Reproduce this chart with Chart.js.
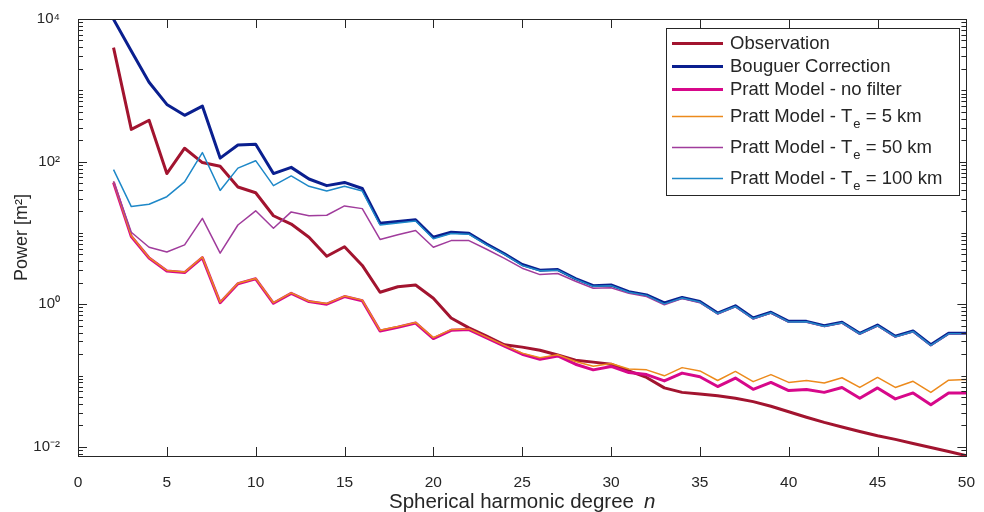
<!DOCTYPE html>
<html>
<head>
<meta charset="utf-8">
<script src="https://cdn.jsdelivr.net/npm/chart.js@4.4.1/dist/chart.umd.min.js"></script>
<style>html,body{margin:0;background:#fff}canvas{display:block}</style>
</head>
<body>
<canvas id="grafico" width="984" height="512"></canvas>
<script>
// Power spectrum vs spherical harmonic degree (log y axis, MATLAB look).
const degrees = [2, 3, 4, 5, 6, 7, 8, 9, 10, 11, 12, 13, 14, 15, 16, 17, 18, 19, 20, 21, 22, 23, 24, 25, 26,
  27, 28, 29, 30, 31, 32, 33, 34, 35, 36, 37, 38, 39, 40, 41, 42, 43, 44, 45, 46, 47, 48, 49, 50];

const observation = [3960, 283, 380, 68, 154, 97, 86, 44, 36.6, 17.4, 13.3, 8.7, 4.7, 6.4, 3.5, 1.47, 1.76, 1.86, 1.21,
  0.64, 0.465, 0.356, 0.27, 0.25, 0.226, 0.194, 0.164, 0.154, 0.144, 0.116, 0.094, 0.067, 0.058, 0.055, 0.052,
  0.048, 0.043, 0.037, 0.031, 0.026, 0.022, 0.019, 0.0164, 0.0143, 0.0127, 0.0111, 0.0098, 0.0086, 0.0075];
const bouguer = [9900, 3560, 1295, 634, 446, 601, 112, 171, 175, 68, 83, 57, 46, 51, 42, 13.7, 14.4, 15.3, 8.7,
  10.2, 9.9, 7.0, 5.1, 3.6, 3.0, 3.06, 2.29, 1.82, 1.86, 1.5, 1.35, 1.04, 1.24, 1.09, 0.75, 0.95, 0.64, 0.77,
  0.575, 0.575, 0.5, 0.56, 0.39, 0.51, 0.356, 0.42, 0.27, 0.39, 0.39];
const prattNoFilter = [51, 8.9, 4.45, 2.93, 2.78, 4.5, 1.05, 1.94, 2.27, 1.03, 1.42, 1.09, 1.0, 1.28, 1.12, 0.42,
  0.475, 0.545, 0.33, 0.43, 0.44, 0.337, 0.259, 0.199, 0.169, 0.188, 0.144, 0.12, 0.134, 0.11, 0.103, 0.084,
  0.108, 0.096, 0.07, 0.092, 0.064, 0.08, 0.0615, 0.0635, 0.058, 0.068, 0.048, 0.067, 0.047, 0.057, 0.039, 0.057, 0.057];
const prattTe5 = [52, 9.1, 4.5, 2.97, 2.82, 4.6, 1.07, 1.97, 2.3, 1.05, 1.44, 1.1, 1.02, 1.3, 1.14, 0.43, 0.485,
  0.555, 0.34, 0.44, 0.45, 0.345, 0.265, 0.206, 0.177, 0.195, 0.157, 0.135, 0.147, 0.123, 0.12, 0.099, 0.129,
  0.116, 0.085, 0.114, 0.082, 0.103, 0.08, 0.085, 0.0787, 0.093, 0.068, 0.094, 0.068, 0.083, 0.058, 0.086, 0.088];
const prattTe50 = [53, 10.2, 6.3, 5.4, 6.8, 16, 5.2, 12.9, 20.4, 11.6, 19.7, 17.4, 17.7, 23.9, 21.9, 8.1, 9.4, 10.8,
  6.3, 7.8, 7.8, 5.9, 4.4, 3.2, 2.6, 2.7, 2.1, 1.67, 1.7, 1.42, 1.28, 0.98, 1.2, 1.05, 0.73, 0.92, 0.62, 0.75,
  0.56, 0.56, 0.485, 0.545, 0.38, 0.495, 0.345, 0.41, 0.262, 0.38, 0.38];
const prattTe100 = [77, 23.4, 25.2, 32.2, 52, 134, 39.4, 81, 103, 46, 63, 45, 38.6, 45, 38.6, 12.9, 13.8, 14.7, 8.3,
  9.8, 9.6, 6.8, 5.0, 3.5, 2.95, 3.0, 2.25, 1.78, 1.82, 1.47, 1.33, 1.01, 1.22, 1.07, 0.74, 0.93, 0.63, 0.76,
  0.565, 0.567, 0.49, 0.55, 0.385, 0.5, 0.35, 0.415, 0.265, 0.385, 0.385];

const seriesNames = ["Observation", "Bouguer Correction", "Pratt Model - no filter",
  "Pratt Model - T_e = 5 km", "Pratt Model - T_e = 50 km", "Pratt Model - T_e = 100 km"];
const xTicks = [0, 5, 10, 15, 20, 25, 30, 35, 40, 45, 50];
const yTicks = [1e-2, 1e0, 1e2, 1e4];

const FONT = "'Liberation Sans', Arial, Helvetica, sans-serif";
const AX = "#262626";
const cores = ["#A2142F", "#0A1F8F", "#D7088A", "#EC8A1C", "#A03C9C", "#1E88C8"];
const larguras = [3, 3, 3, 1.5, 1.5, 1.5];
const series = [observation, bouguer, prattNoFilter, prattTe5, prattTe50, prattTe100];

const SUP = { "-": "\u207B", "0": "\u2070", "1": "\u00B9", "2": "\u00B2", "3": "\u00B3", "4": "\u2074" };
const potencia = (v) => "10" + String(Math.round(Math.log10(v))).split("").map((c) => SUP[c]).join("");

function traco(ctx, x1, y1, x2, y2) { ctx.beginPath(); ctx.moveTo(x1, y1); ctx.lineTo(x2, y2); ctx.stroke(); }

// box + inward ticks on all four sides
const moldura = {
  id: "moldura",
  afterDatasetsDraw(chart) {
    const { ctx, chartArea: a, scales: { x, y } } = chart;
    ctx.save();
    ctx.strokeStyle = AX; ctx.lineWidth = 1;
    for (let k = -3; k <= 4; k++) for (let m = 1; m <= 9; m++) {
      const v = m * 10 ** k;
      if (v < y.min || v > y.max) continue;
      const p = Math.round(y.getPixelForValue(v)) + 0.5;
      const len = m === 1 && yTicks.includes(v) ? 9 : 5;
      traco(ctx, a.left, p, a.left + len, p);
      traco(ctx, a.right, p, a.right - len, p);
    }
    xTicks.forEach((v) => {
      const p = Math.round(x.getPixelForValue(v)) + 0.5;
      traco(ctx, p, a.bottom, p, a.bottom - 9);
      traco(ctx, p, a.top, p, a.top + 9);
    });
    ctx.strokeRect(Math.round(a.left) + 0.5, Math.round(a.top) + 0.5, Math.round(a.right - a.left), Math.round(a.bottom - a.top));
    ctx.restore();
  },
};

// legend drawn by hand: the subscript "e" needs its own font
const legenda = {
  id: "legenda",
  afterDraw(chart) {
    const ctx = chart.ctx;
    const ds = chart.data.datasets;
    const alturas = ds.map((d) => (d.label.includes("_e") ? 31 : 23));
    ctx.save();
    ctx.fillStyle = "#fff"; ctx.fillRect(666, 28, 293, 167);
    ctx.strokeStyle = AX; ctx.lineWidth = 1; ctx.strokeRect(666.5, 28.5, 293, 167);
    let y = 43.5;
    ds.forEach((d, i) => {
      if (i) y += (alturas[i - 1] + alturas[i]) / 2;
      ctx.strokeStyle = d.borderColor; ctx.lineWidth = d.borderWidth;
      traco(ctx, 672, y, 723, y);
      ctx.fillStyle = AX; ctx.textBaseline = "middle"; ctx.textAlign = "left";
      const [antes, depois] = d.label.split("_e");
      ctx.font = "18.5px " + FONT;
      ctx.fillText(antes, 730, y);
      if (depois === undefined) return;
      let x = 730 + ctx.measureText(antes).width + 1;
      ctx.font = "13px " + FONT;
      ctx.fillText("e", x, y + 8);
      x += ctx.measureText("e").width;
      ctx.font = "18.5px " + FONT;
      ctx.fillText(depois, x, y);
    });
    ctx.restore();
  },
};

// x title with italic n
const tituloX = {
  id: "tituloX",
  afterDraw(chart) {
    const { ctx, chartArea: a } = chart;
    const t1 = "Spherical harmonic degree", t2 = "n", gap = 10;
    ctx.save();
    ctx.fillStyle = AX; ctx.textBaseline = "alphabetic"; ctx.textAlign = "left";
    ctx.font = "20.5px " + FONT;
    const w1 = ctx.measureText(t1).width;
    ctx.font = "italic 20.5px " + FONT;
    const w2 = ctx.measureText(t2).width;
    const x0 = (a.left + a.right) / 2 - (w1 + gap + w2) / 2;
    ctx.font = "20.5px " + FONT;
    ctx.fillText(t1, x0, 508);
    ctx.font = "italic 20.5px " + FONT;
    ctx.fillText(t2, x0 + w1 + gap, 508);
    ctx.restore();
  },
};

new Chart(document.getElementById("grafico"), {
  type: "line",
  data: {
    datasets: series.map((vals, i) => ({
      label: seriesNames[i],
      data: vals.map((v, j) => ({ x: degrees[j], y: v })),
      borderColor: cores[i],
      borderWidth: larguras[i],
      pointRadius: 0,
      tension: 0,
      borderJoinStyle: "round",
      fill: false,
      order: series.length - i,
    })),
  },
  options: {
    responsive: false,
    animation: false,
    layout: { padding: { top: 14, right: 12, left: 0, bottom: 0 } },
    plugins: { legend: { display: false }, tooltip: { enabled: false } },
    scales: {
      x: {
        type: "linear", min: 0, max: 50,
        afterBuildTicks: (s) => { s.ticks = xTicks.map((v) => ({ value: v })); },
        afterFit: (s) => { s.height = 56; },
        ticks: { color: AX, font: { family: FONT, size: 15.5 }, padding: 9, maxRotation: 0 },
        grid: { display: false }, border: { display: false },
      },
      y: {
        type: "logarithmic", min: 0.00743, max: 10000,
        afterBuildTicks: (s) => { s.ticks = yTicks.map((v) => ({ value: v })); },
        afterFit: (s) => { s.width = 78; },
        ticks: { color: AX, font: { family: FONT, size: 15 }, padding: 10, callback: (v) => potencia(v) },
        grid: { display: false }, border: { display: false },
        title: { display: true, text: "Power [m\u00B2]", color: AX, font: { family: FONT, size: 18 }, padding: { top: 11, bottom: 0 } },
      },
    },
  },
  plugins: [moldura, legenda, tituloX],
});
</script>
</body>
</html>
